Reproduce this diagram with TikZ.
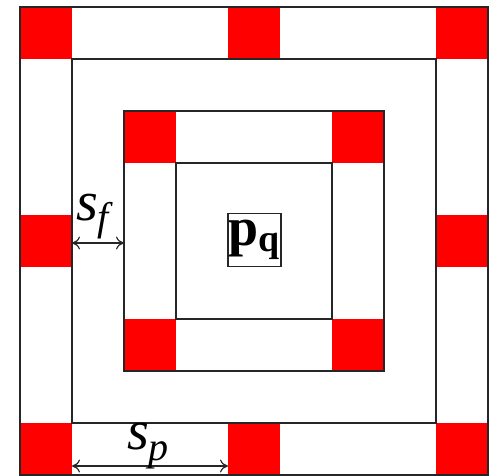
\documentclass[tikz,border=0pt]{standalone}
\usepackage{fontspec}
\setmainfont{Liberation Serif}
\usetikzlibrary{arrows.meta}
\begin{document}
\begin{tikzpicture}[x=1pt,y=-1pt,
  frame/.style={draw=black!85,line width=1.5pt},
  redsq/.style={fill=red},
  dimarrow/.style={draw=black!85,line width=1.2pt,{Computer Modern Rightarrow[length=8pt,width=13pt]}-{Computer Modern Rightarrow[length=8pt,width=13pt]}},
  lbl/.style={inner sep=0pt,anchor=base west,font=\fontsize{56}{60}\selectfont}]
\useasboundingbox (0,0) rectangle (490,475);
% red squares, outer ring
\foreach \x in {20,228,436} \foreach \y in {7,423} \fill[redsq] (\x,\y) rectangle ++(52,52);
\foreach \x in {20,436} \fill[redsq] (\x,215) rectangle ++(52,52);
% red squares, inner ring
\foreach \x in {124,332} \foreach \y in {111,319} \fill[redsq] (\x,\y) rectangle ++(52,52);
% frames
\draw[frame] (20,7) rectangle (488,475);
\draw[frame] (72,59) rectangle (436,423);
\draw[frame] (124,111) rectangle (384,371);
\draw[frame] (176,163) rectangle (332,319);
% centre label
\node[draw=black!85,line width=1.5pt,inner sep=1pt,minimum width=53pt,minimum height=53pt,font=\fontsize{54}{56}\selectfont] (pq) at (254.5,240)
  {\textbf{p}\raisebox{-0.1em}{\fontsize{38}{38}\selectfont\textbf{q}}};
% dimension arrows
\coordinate (fa) at (72,243);
\coordinate (fb) at (124,243);
\draw[dimarrow] (fa) -- (fb);
\node[lbl] (sf) at (76,220) {\textit{s}\raisebox{-0.18em}{\fontsize{40}{40}\selectfont\textit{f}}};
\coordinate (pa) at (72,466);
\coordinate (pb) at (228,466);
\draw[dimarrow] (pa) -- (pb);
\node[lbl] (sp) at (127,449) {\textit{s}\raisebox{-0.2em}{\fontsize{40}{40}\selectfont\textit{p}}};
\end{tikzpicture}
\end{document}
